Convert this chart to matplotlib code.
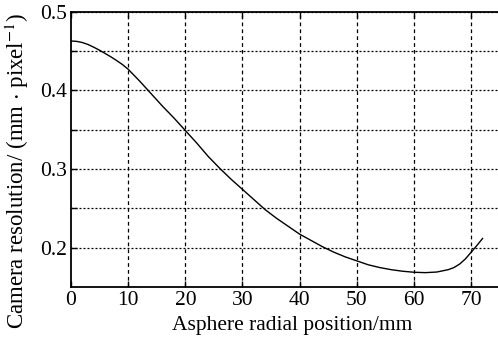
import matplotlib
matplotlib.use("Agg")
import matplotlib.pyplot as plt

# Camera resolution versus radial position on the asphere
radial_mm = [0, 1, 2, 3, 4, 5, 6, 7, 8, 9, 10, 12, 14, 16, 18, 20, 22, 24,
             26, 28, 30, 32, 34, 36, 38, 40, 42, 44, 46, 48, 50, 52, 54, 56,
             58, 60, 62, 64, 66, 67, 68, 69, 70, 71, 72]
resolution = [0.463, 0.4625, 0.461, 0.4585, 0.455, 0.4512, 0.447, 0.4427,
              0.438, 0.433, 0.427, 0.412, 0.396, 0.380, 0.365, 0.349, 0.333,
              0.316, 0.301, 0.287, 0.274, 0.261, 0.248, 0.237, 0.227, 0.217,
              0.209, 0.201, 0.194, 0.188, 0.183, 0.178, 0.1745, 0.1718,
              0.1698, 0.1685, 0.168, 0.1688, 0.1718, 0.1745, 0.179, 0.1855,
              0.194, 0.2025, 0.2115]

x_ticks = [0, 10, 20, 30, 40, 50, 60, 70]
y_ticks = [0.20, 0.25, 0.30, 0.35, 0.40, 0.45, 0.50]
y_labels = ["0.2", "", "0.3", "", "0.4", "", "0.5"]

plt.rcParams["font.family"] = ["Liberation Serif", "DejaVu Serif"]
plt.rcParams["mathtext.fontset"] = "stix"

fig = plt.figure(figsize=(4.98, 3.41), dpi=100)
ax = fig.add_axes([0.1426, 0.159, 0.8574, 0.806])

for xv in x_ticks[1:]:
    ax.axvline(xv, color="black", lw=0.9, ls=(0, (3, 2.5)), zorder=1)
for yv in y_ticks:
    ax.axhline(yv, color="black", lw=0.9, ls=(0, (1.6, 1.6)), zorder=1)

ax.plot(radial_mm, resolution, color="black", lw=1.0, zorder=3)

ax.set_xlim(0, 74.7)
ax.set_ylim(0.15, 0.5)
ax.set_xticks(x_ticks)
ax.set_yticks(y_ticks)
ax.set_yticklabels(y_labels)
ax.tick_params(direction="in", length=4, width=1, labelsize=15.5, pad=3,
               top=True, right=False)
ax.spines["right"].set_visible(False)
for s in ("left", "bottom", "top"):
    ax.spines[s].set_linewidth(1.3)

fig.text(0.5875, 0.044, "Asphere radial position/mm", ha="center",
         va="center", fontsize=15.5)
fig.text(0.034, 0.50, "Camera resolution/ (mm $\\cdot$ pixel$^{-1}$)",
         rotation=90, ha="center", va="center", fontsize=16.5)

fig.savefig("out.png", dpi=100)
